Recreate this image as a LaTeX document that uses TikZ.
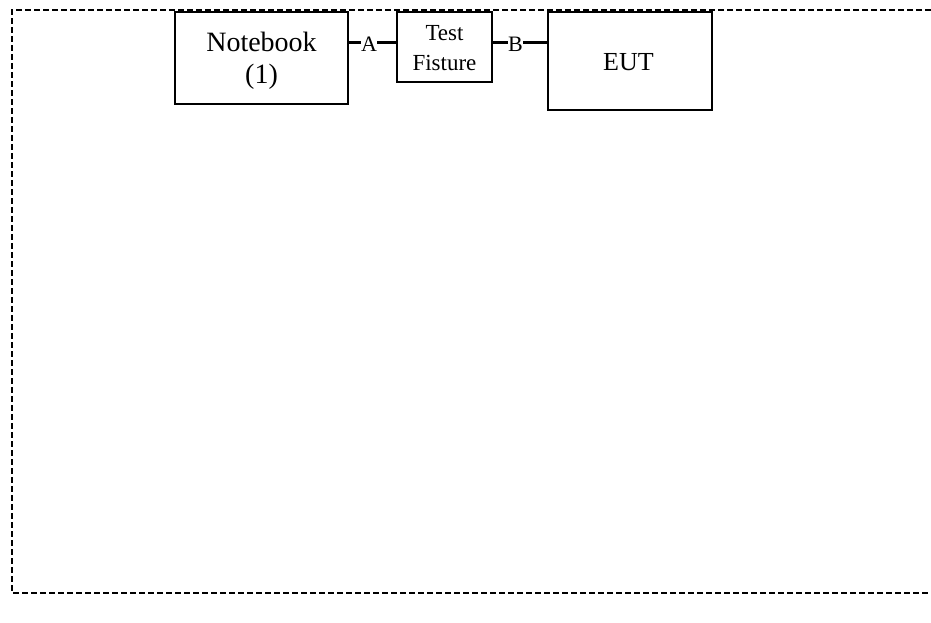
\documentclass[tikz,border=0pt]{standalone}
\usepackage{fontspec}
\setmainfont{Liberation Serif}
\begin{document}
\begin{tikzpicture}[x=1bp,y=-1bp,
  box/.style={draw=black,line width=1.3bp,fill=white,inner sep=0pt,align=center},
  txt/.style={inner sep=0pt,align=center},
  conn/.style={draw=black,line width=3bp},
  lab/.style={inner sep=0pt,font=\fontsize{22bp}{24bp}\selectfont},
  frame/.style={draw=black,line width=1.4bp,dash pattern=on 6bp off 3bp}]
\useasboundingbox (0,0) rectangle (931,623);
\draw[frame] (931,10) -- (12,10) -- (12,593) -- (931,593);
\node[box,minimum width=173bp,minimum height=92bp] (nb) at (261.5,58) {};
\node[txt,font=\fontsize{28bp}{32bp}\selectfont] (nbt) at (261.5,61) {Notebook\\(1)};
\node[box,minimum width=95bp,minimum height=70bp] (tf) at (444.5,47) {};
\node[txt,font=\fontsize{23bp}{30bp}\selectfont] (tft) at (444.5,48.5) {Test\\Fisture};
\node[box,minimum width=164bp,minimum height=98bp] (eut) at (630,61) {};
\node[txt,font=\fontsize{26bp}{30bp}\selectfont] (eutt) at (628.5,62) {EUT};
\node[lab] (a) at (369,44) {A};
\node[lab] (b) at (515.5,44) {B};
\draw[conn] (a.west |- 0,43) -- (nb.east |- 0,43);
\draw[conn] (a.east |- 0,43) -- (tf.west |- 0,43);
\draw[conn] (b.west |- 0,43) -- (tf.east |- 0,43);
\draw[conn] (b.east |- 0,43) -- (eut.west |- 0,43);
\end{tikzpicture}
\end{document}
